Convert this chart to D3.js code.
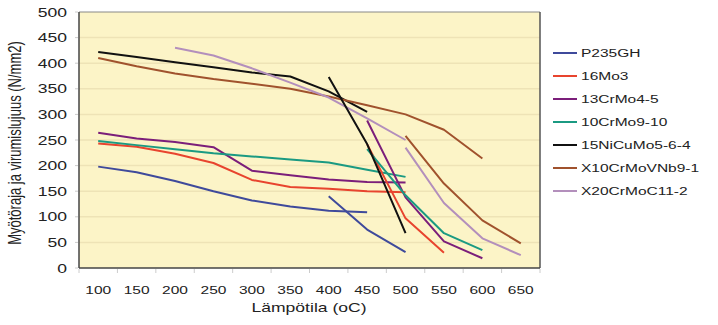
<!DOCTYPE html>
<html><head><meta charset="utf-8">
<script src="https://cdn.jsdelivr.net/npm/d3@7"></script>
<style>body{margin:0;background:#fff}svg{display:block}text{font-family:"Liberation Sans",Arial,sans-serif;fill:#222}</style>
</head><body><svg id="c" width="718" height="325"></svg>
<script>
const temps = [100,150,200,250,300,350,400,450,500,550,600,650];
const yTicks = [0,50,100,150,200,250,300,350,400,450,500];
const materials = ["P235GH","16Mo3","13CrMo4-5","10CrMo9-10","15NiCuMo5-6-4","X10CrMoVNb9-1","X20CrMoC11-2"];
const colors = ["#3F4A9B","#E8442E","#7B1E7A","#1B9A82","#111111","#A0522D","#B38FBC"];
const N = null;
// yield strength (Myötöraja)
const yieldP235GH = [198,187,170,150,132,120,112,109,N,N,N,N];
const yield16Mo3 = [243,237,223,205,172,158,155,150,148,N,N,N];
const yield13CrMo45 = [264,253,246,236,190,181,173,168,167,N,N,N];
const yield10CrMo910 = [248,240,232,224,218,212,206,192,178,N,N,N];
const yield15NiCuMo564 = [422,412,402,392,382,374,345,305,N,N,N,N];
const yieldX10CrMoVNb91 = [410,394,380,369,360,350,335,318,300,270,214,N];
const yieldX20CrMoC112 = [N,N,430,415,390,362,333,292,250,N,N,N];
// creep strength (virumislujuus)
const creepP235GH = [N,N,N,N,N,N,140,75,31,N,N,N];
const creep16Mo3 = [N,N,N,N,N,N,N,242,97,30,N,N];
const creep13CrMo45 = [N,N,N,N,N,N,N,288,138,52,19,N];
const creep10CrMo910 = [N,N,N,N,N,N,N,232,142,68,35,N];
const creep15NiCuMo564 = [N,N,N,N,N,N,373,242,68,N,N,N];
const creepX10CrMoVNb91 = [N,N,N,N,N,N,N,N,258,165,93,48];
const creepX20CrMoC112 = [N,N,N,N,N,N,N,N,235,127,58,25];

const yieldSeries = [yieldP235GH,yield16Mo3,yield13CrMo45,yield10CrMo910,yield15NiCuMo564,yieldX10CrMoVNb91,yieldX20CrMoC112];
const creepSeries = [creepP235GH,creep16Mo3,creep13CrMo45,creep10CrMo910,creep15NiCuMo564,creepX10CrMoVNb91,creepX20CrMoC112];

const svg = d3.select("#c");
const L = 79, R = 540, T = 12, B = 268;
const SX = 1.35;
const x = d3.scaleBand().domain(temps).range([L, R]);
const xc = v => x(v) + x.bandwidth()/2;
const y = d3.scaleLinear().domain([0,500]).range([B, T]);

svg.append("rect").attr("x",L).attr("y",T).attr("width",R-L).attr("height",B-T).attr("fill","#FCF4C7");
svg.append("g").selectAll("line").data(yTicks.filter(d=>d>0&&d<500)).join("line")
  .attr("x1",L).attr("x2",R).attr("y1",d=>y(d)).attr("y2",d=>y(d))
  .attr("stroke","#EEE3B6").attr("stroke-width",1.5);
// frame
svg.append("line").attr("x1",L).attr("x2",R).attr("y1",T).attr("y2",T).attr("stroke","#888");
svg.append("line").attr("x1",R).attr("x2",R).attr("y1",T).attr("y2",B).attr("stroke","#555").attr("stroke-width",1.5);
svg.append("line").attr("x1",L).attr("x2",L).attr("y1",T).attr("y2",B).attr("stroke","#444").attr("stroke-width",1.5);
svg.append("line").attr("x1",L).attr("x2",R).attr("y1",B).attr("y2",B).attr("stroke","#444").attr("stroke-width",1.5);
// ticks
svg.append("g").selectAll("line").data(temps.concat([null])).join("line")
  .attr("x1",(d,i)=>L+i*x.bandwidth()).attr("x2",(d,i)=>L+i*x.bandwidth())
  .attr("y1",B+1).attr("y2",B+5).attr("stroke","#ccc");
svg.append("g").selectAll("line").data(yTicks).join("line")
  .attr("x1",L-4).attr("x2",L-1).attr("y1",d=>y(d)).attr("y2",d=>y(d)).attr("stroke","#ccc");

// tick labels
svg.append("g").selectAll("text").data(yTicks).join("text")
  .attr("transform",d=>`translate(67,${y(d)+4.5}) scale(${SX},1)`)
  .attr("text-anchor","end").attr("font-size",13).text(d=>d);
svg.append("g").selectAll("text").data(temps).join("text")
  .attr("transform",d=>`translate(${xc(d)},${294}) scale(${SX},1)`)
  .attr("text-anchor","middle").attr("font-size",11.5).text(d=>d);
svg.append("text").attr("transform",`translate(309,312) scale(${SX},1)`)
  .attr("text-anchor","middle").attr("font-size",13).text("Lämpötila (oC)");
svg.append("text").attr("transform",`translate(21,143) scale(${SX},1) rotate(-90)`)
  .attr("text-anchor","middle").attr("font-size",13).text("Myötöraja ja virumislujuus (N/mm2)");

// lines
const line = d3.line().defined(d=>d.v!=null).x(d=>xc(d.t)).y(d=>y(d.v));
const g = svg.append("g").attr("fill","none").attr("stroke-width",2).attr("stroke-linejoin","round");
yieldSeries.forEach((s,i)=>{
  g.append("path").attr("d",line(temps.map((t,j)=>({t,v:s[j]})))).attr("stroke",colors[i]);
});
creepSeries.forEach((s,i)=>{
  g.append("path").attr("d",line(temps.map((t,j)=>({t,v:s[j]})))).attr("stroke",colors[i]);
});

// legend
const lg = svg.append("g");
materials.forEach((m,i)=>{
  const yy = 53 + i*23;
  lg.append("line").attr("x1",553).attr("x2",577).attr("y1",yy).attr("y2",yy).attr("stroke",colors[i]).attr("stroke-width",2);
  lg.append("text").attr("transform",`translate(581,${yy+4}) scale(${SX},1)`).attr("font-size",11.5).text(m);
});
</script></body></html>
